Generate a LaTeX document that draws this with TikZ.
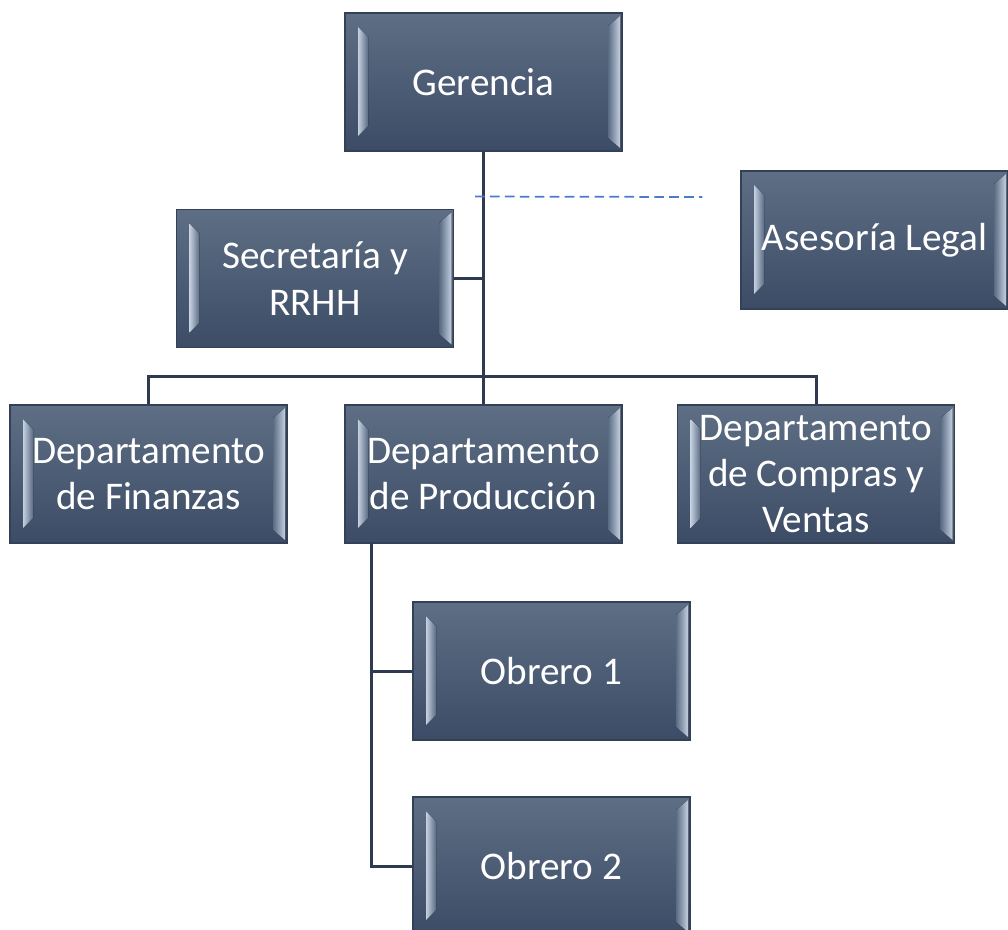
\documentclass[tikz,border=0pt]{standalone}
\usepackage{fontspec}
\setmainfont{Carlito}
\usetikzlibrary{positioning}
\usetikzlibrary{calc}

\definecolor{boxtop}{HTML}{5E6E84}
\definecolor{boxbot}{HTML}{3C4C66}
\definecolor{boxedge}{HTML}{334055}
\definecolor{bevlight}{HTML}{C4D0E0}
\definecolor{bevdark}{HTML}{5A6B82}
\definecolor{linecol}{HTML}{2E3A4F}
\definecolor{dashcol}{HTML}{4A7BD0}

\begin{document}
\begin{tikzpicture}[%
			orgbox/.style={draw=boxedge, line width=0.6pt, top color=boxtop, bottom color=boxbot,
				minimum width=5.54cm, minimum height=2.76cm, inner sep=0pt, text=white, align=center,
				font=\fontsize{22.3}{26.3}\selectfont,
				path picture={
					\coordinate (bbnw) at (path picture bounding box.north west);
					\coordinate (bbse) at (path picture bounding box.south east);
					\fill[left color=bevlight, right color=bevdark]
						($(bbnw)+(0.26,-0.28)$) -- ($(bbnw)+(0.46,-0.48)$) -- ($(bbnw|-bbse)+(0.46,0.50)$) -- ($(bbnw|-bbse)+(0.26,0.30)$) -- cycle;
					\fill[left color=bevdark, right color=bevlight]
						($(bbse|-bbnw)+(-0.28,-0.26)$) -- ($(bbse|-bbnw)+(-0.04,-0.06)$) -- ($(bbse)+(-0.04,0.06)$) -- ($(bbse)+(-0.28,0.26)$) -- cycle;
				}},
			orgline/.style={draw=linecol, line width=1.7pt},
			legalline/.style={draw=dashcol, line width=1pt, dash pattern=on 5.5pt off 3pt}]
			\useasboundingbox (0,0) rectangle (20.16,-18.58);
			\node[orgbox](ger) at (9.67,-1.64){Gerencia};
			\node[orgbox](sec) at (6.30,-5.57){Secretaría y\\RRHH};
			\node[orgbox, minimum width=5.34cm](legal) at (17.49,-4.80){Asesoría Legal};
			\node[orgbox](fin) at (2.97,-9.48){Departamento\\de Finanzas};
			\node[orgbox](prod) at (9.67,-9.48){Departamento\\de Producción};
			\node[orgbox](comp) at (16.32,-9.48){Departamento\\de Compras y\\Ventas};
			\node[orgbox](ob1) at (11.03,-13.42){Obrero 1};
			\node[orgbox](ob2) at (11.03,-17.32){Obrero 2};
			% bus and spine
			\coordinate (bus) at ($(prod.north)+(0,0.56)$);
			\coordinate (spine) at ($(prod.south west)+(0.54,0)$);
			\coordinate (legalA) at ($(ger.south)+(-0.17,-0.90)$);
			\coordinate (legalB) at ($(legal.west)+(-0.76,0.86)$);
			\path[orgline] (ger.south) -- (prod.north);
			\path[orgline] (sec.east) -- (sec.east -| ger.south);
			\path[orgline] (fin.north) |- (bus) -| (comp.north);
			\path[orgline] (spine) |- (ob1.west);
			\path[orgline] (spine) |- (ob2.west);
			\path[legalline] (legalA) -- (legalB);
\end{tikzpicture}
\end{document}
